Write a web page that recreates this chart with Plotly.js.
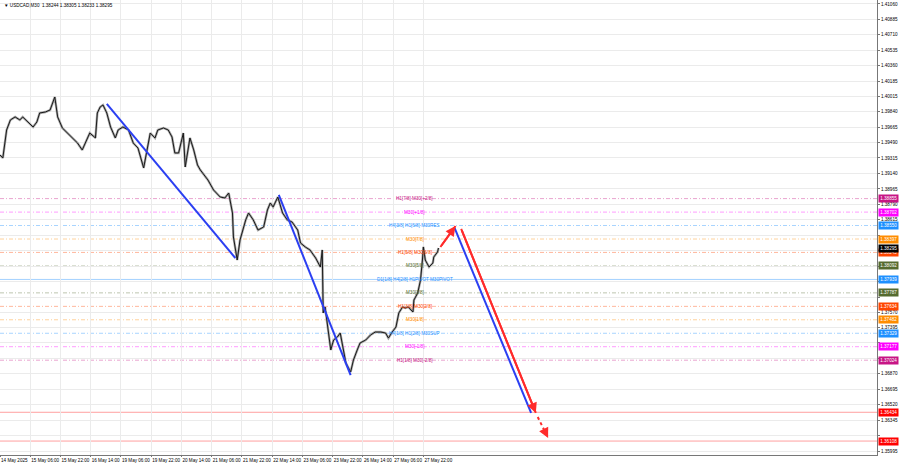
<!DOCTYPE html>
<html><head><meta charset="utf-8">
<script src="https://cdn.plot.ly/plotly-3.0.1.min.js"></script>
<style>html,body{margin:0;padding:0;background:#fff}#chart{width:900px;height:468px}</style>
</head><body><div id="chart"></div>
<script>
// ---------- data ----------
const symbolTitle = "USDCAD,M30  1.38244 1.38305 1.38233 1.38295";
const timeTickBars = [0,32,64,96,128,160,192,224,256,288,320,352,384,416,448];
const timeTickLabels = ["14 May 2025","15 May 06:00","15 May 22:00","16 May 14:00","19 May 06:00","19 May 22:00","20 May 14:00","21 May 06:00","21 May 22:00","22 May 14:00","23 May 06:00","23 May 22:00","26 May 14:00","27 May 06:00","27 May 22:00"];
const priceTicks = [1.41060,1.40885,1.40710,1.40535,1.40360,1.40185,1.40015,1.39840,1.39665,1.39490,1.39315,1.39140,1.38965,1.38790,1.38615,1.38440,1.38265,1.38090,1.37915,1.37740,1.37570,1.37395,1.37220,1.37045,1.36870,1.36695,1.36520,1.36345,1.36170,1.35995];

const priceBars = [0,3,7,11,16,21,24,30,35,39,42,48,53,58,61,66,71,76,82,87,90,95,101,103,106,109,113,117,122,125,130,136,141,146,152,156,159,164,167,173,178,182,185,189,194,196,201,205,209,212,217,220,226,233,238,242,246,247,251,254,260,263,268,273,279,283,286,289,294,299,304,309,315,318,323,328,334,339,341,342,344,348,350,353,357,360,362,366,371,374,378,381,387,392,397,403,408,411,415,419,422,426,429,432,437,438,442,445,447,448,450,454,458,459,463,464];
const priceClose = [1.39349,1.39315,1.39632,1.39746,1.39780,1.39746,1.39780,1.39712,1.39666,1.39723,1.39825,1.39836,1.39859,1.40006,1.39780,1.39655,1.39598,1.39553,1.39485,1.39406,1.39485,1.39598,1.39542,1.39825,1.39893,1.39916,1.39825,1.39666,1.39542,1.39632,1.39666,1.39632,1.39485,1.39428,1.39202,1.39440,1.39598,1.39542,1.39632,1.39655,1.39632,1.39553,1.39372,1.39372,1.39598,1.39213,1.39542,1.39406,1.39236,1.39179,1.39100,1.39066,1.38952,1.38873,1.38862,1.38918,1.38692,1.38420,1.38159,1.38386,1.38613,1.38692,1.38613,1.38499,1.38533,1.38726,1.38805,1.38760,1.38873,1.38692,1.38613,1.38590,1.38499,1.38352,1.38307,1.38273,1.38182,1.38080,1.38273,1.37559,1.37627,1.37332,1.37140,1.37253,1.37287,1.37332,1.37219,1.36992,1.36890,1.37026,1.37140,1.37219,1.37253,1.37309,1.37343,1.37343,1.37332,1.37275,1.37343,1.37400,1.37559,1.37627,1.37615,1.37627,1.37570,1.37706,1.37785,1.37933,1.38159,1.38307,1.38159,1.38080,1.38125,1.38193,1.38250,1.38295];

const levelPrices = [1.38855,1.38702,1.38550,1.38397,1.38245,1.38092,1.37939,1.37787,1.37634,1.37482,1.37329,1.37177,1.37024];
const levelLabels = ["H1[7/8] M30[+2/8]","M30[+1/8]","H4[3/8] H1[6/8] M30RES","M30[7/8]","H1[5/8] M30[6/8]","M30[5/8]","D1[1/8] H4[2/8] H1PIVOT M30PIVOT","M30[3/8]","H1[3/8] M30[2/8]","M30[1/8]","H4[1/8] H1[2/8] M30SUP","M30[-1/8]","H1[1/8] M30[-2/8]"];
const levelKinds = ["p2","p1","edge","o7","o6","o5","pivot","o5","o6","o7","edge","p1","p2"];
const targetPrices = [1.36434,1.36108];
const currentPrice = 1.38295;

const blueLineBars = [[113,249],[295,371],[481,562]];
const blueLinePrices = [[1.39927,1.38182],[1.38896,1.36856],[1.38522,1.36426]];
const redArrowBars = [[466,482],[488,567]];
const redArrowPrices = [[1.38307,1.38545],[1.38511,1.36426]];
const dashArrowBars = [569,580];
const dashArrowPrices = [1.36380,1.36142];

// ---------- style ----------
const kindColor = {p2:"#c71585",p1:"#ff00ff",edge:"#1e90ff",o7:"#ff8c00",o6:"#ff4500",o5:"#556b2f",pivot:"#1e90ff"};
const labelBar = 439;
const FONT = "Liberation Sans, Arial, sans-serif";
const FS = 4.6;
const BLUE = "#2b3ff2", RED = "#ff2b2b";

// price boxes drawn on the right axis
const boxes = levelPrices.map((p,i)=>({p:p,bg:kindColor[levelKinds[i]]}));
boxes.push({p:currentPrice,bg:"#000"});
targetPrices.forEach(p=>boxes.push({p:p,bg:"#ff0000"}));

// hide tick labels that the price boxes cover (as in the terminal)
const yRange = [1.35950,1.41105];
const pxPerPrice = 455/(yRange[1]-yRange[0]);
const tickText = priceTicks.map(v=>{
  const covered = boxes.some(b=>Math.abs(b.p-v)*pxPerPrice<5.5);
  return covered ? "" : v.toFixed(5);
});

const traces = [];
traces.push({x:priceBars,y:priceClose,type:"scatter",mode:"lines",line:{color:"#a8a8a8",width:2.4},hoverinfo:"skip"});
traces.push({x:priceBars,y:priceClose,type:"scatter",mode:"lines",line:{color:"#1a1a1a",width:1},hoverinfo:"skip"});
blueLineBars.forEach((b,i)=>traces.push({x:b,y:blueLinePrices[i],type:"scatter",mode:"lines",line:{color:BLUE,width:2},hoverinfo:"skip"}));
redArrowBars.forEach((b,i)=>traces.push({x:b,y:redArrowPrices[i],type:"scatter",mode:"lines",line:{color:RED,width:2},hoverinfo:"skip"}));
traces.push({x:dashArrowBars,y:dashArrowPrices,type:"scatter",mode:"lines",line:{color:RED,width:2,dash:"3px,3px"},hoverinfo:"skip"});

const shapes = [];
levelPrices.forEach((p,i)=>{
  const k = levelKinds[i];
  shapes.push({type:"line",xref:"paper",x0:0,x1:1,yref:"y",y0:p,y1:p,layer:"below",
    line:{color:kindColor[k],width:1,dash:k==="pivot"?"solid":"4px,2px,1px,2px"},opacity:k==="pivot"?0.4:0.38});
});
targetPrices.forEach(p=>shapes.push({type:"line",xref:"paper",x0:0,x1:1,yref:"y",y0:p,y1:p,layer:"below",line:{color:"#ff8080",width:1},opacity:0.75}));

const annotations = [];
annotations.push({xref:"paper",yref:"paper",x:0,y:1,xanchor:"left",yanchor:"top",xshift:2,yshift:-1,showarrow:false,
  text:"▼ "+symbolTitle,font:{family:FONT,size:FS,color:"#000"}});
levelPrices.forEach((p,i)=>annotations.push({x:labelBar,y:p,xref:"x",yref:"y",showarrow:false,xanchor:"center",yanchor:"middle",
  text:levelLabels[i],font:{family:FONT,size:FS,color:kindColor[levelKinds[i]]}}));
boxes.forEach(b=>annotations.push({xref:"paper",x:1,xanchor:"left",xshift:1,yref:"y",y:b.p,yanchor:"middle",showarrow:false,
  text:b.p.toFixed(5),bgcolor:b.bg,borderpad:1.2,font:{family:FONT,size:FS,color:"#fff"}}));
redArrowBars.forEach((b,i)=>annotations.push({x:b[1],y:redArrowPrices[i][1],ax:b[0],ay:redArrowPrices[i][0],xref:"x",yref:"y",axref:"x",ayref:"y",
  showarrow:true,arrowhead:2,arrowsize:1,arrowwidth:2,arrowcolor:RED,text:""}));
{
  const hx = dashArrowBars[1], hy = dashArrowPrices[1];
  const tx = hx-(dashArrowBars[1]-dashArrowBars[0])*0.35, ty = hy-(dashArrowPrices[1]-dashArrowPrices[0])*0.35;
  annotations.push({x:hx,y:hy,ax:tx,ay:ty,xref:"x",yref:"y",axref:"x",ayref:"y",showarrow:true,arrowhead:2,arrowsize:1,arrowwidth:2,arrowcolor:RED,text:""});
}

const layout = {
  width:900,height:468,paper_bgcolor:"#fff",plot_bgcolor:"#fff",showlegend:false,
  margin:{l:0,r:23,t:0,b:13},
  font:{family:FONT,size:FS,color:"#000"},
  xaxis:{range:[0,928],tickvals:timeTickBars,ticktext:timeTickLabels,ticklabelposition:"outside right",tickangle:0,
    ticks:"outside",ticklen:1,tickcolor:"#777",showline:true,linecolor:"#777",linewidth:1,automargin:false,
    showgrid:true,gridcolor:"#ebebeb",gridwidth:1,zeroline:false,tickfont:{family:FONT,size:FS,color:"#000"},fixedrange:true},
  yaxis:{side:"right",range:yRange,tickvals:priceTicks,ticktext:tickText,automargin:false,
    ticks:"outside",ticklen:2,tickcolor:"#777",showline:true,linecolor:"#777",linewidth:1,
    showgrid:true,gridcolor:"#ebebeb",gridwidth:1,zeroline:false,tickfont:{family:FONT,size:FS,color:"#000"},fixedrange:true},
  shapes:shapes,annotations:annotations
};
Plotly.newPlot("chart",traces,layout,{displayModeBar:false,staticPlot:true});
</script></body></html>
